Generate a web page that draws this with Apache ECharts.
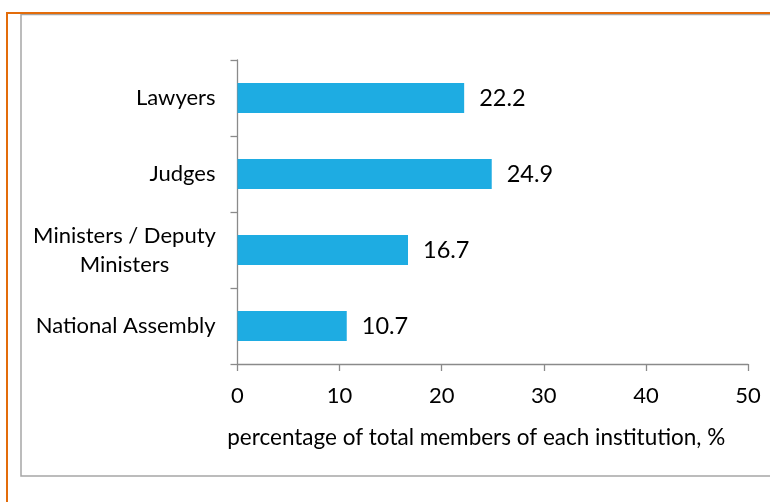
<!DOCTYPE html>
<html>
<head>
<meta charset="utf-8">
<script src="https://cdn.jsdelivr.net/npm/echarts@6/dist/echarts.min.js"></script>
<style>
  html, body { margin: 0; padding: 0; background: #fff; }
  #chart { width: 770px; height: 502px; }
</style>
</head>
<body>
<div id="chart"></div>
<script>
// Institutions, listed top to bottom
const categories = ['Lawyers', 'Judges', 'Ministers / Deputy Ministers', 'National Assembly'];
// Share of women among all members of each institution, %
const shares = [22.2, 24.9, 16.7, 10.7];
// Value axis range and step
const axisMin = 0;
const axisMax = 50;
const axisStep = 10;
const axisTitle = 'percentage of total members of each institution, %';

const FONT = 'Lato, "Open Sans", sans-serif';
const AXIS_GREY = '#8a8a8a';

const chart = echarts.init(document.getElementById('chart'), null, { renderer: 'canvas' });

chart.setOption({
  animation: false,
  backgroundColor: '#ffffff',
  textStyle: { fontFamily: FONT },
  graphic: [
    // grey chart-area frame
    {
      type: 'rect', silent: true, z: 0,
      shape: { x: 21, y: 14.5, width: 800, height: 461.5 },
      style: { fill: 'none', stroke: '#a6a6a6', lineWidth: 1.5 }
    },
    // orange accent rule, top and left
    {
      type: 'polyline', silent: true, z: 1,
      shape: { points: [[7, 502], [7, 13], [770, 13]] },
      style: { fill: 'none', stroke: '#e36c0a', lineWidth: 2 }
    }
  ],
  grid: { left: 237.5, right: 22, top: 60, bottom: 138, containLabel: false },
  xAxis: {
    type: 'value',
    min: axisMin,
    max: axisMax,
    interval: axisStep,
    name: axisTitle,
    nameLocation: 'middle',
    nameGap: 62,
    nameTextStyle: { fontFamily: FONT, fontSize: 22.5, color: '#000', padding: [0, 33, 0, 0] },
    axisLine: { show: true, lineStyle: { color: AXIS_GREY, width: 1.3 } },
    axisTick: { show: true, length: 7, lineStyle: { color: AXIS_GREY, width: 1.3 } },
    axisLabel: { fontFamily: FONT, fontSize: 22, color: '#000', margin: 21 },
    splitLine: { show: false }
  },
  yAxis: {
    type: 'category',
    data: categories,
    inverse: true,
    axisLine: { show: true, lineStyle: { color: AXIS_GREY, width: 1.3 } },
    axisTick: { show: true, length: 7, lineStyle: { color: AXIS_GREY, width: 1.3 } },
    axisLabel: {
      fontFamily: FONT, fontSize: 22, color: '#000', margin: 22,
      formatter: function (v) {
        if (v === 'Ministers / Deputy Ministers') {
          return '{c|Ministers / Deputy}\n{c|Ministers}';
        }
        return v;
      },
      rich: {
        c: { fontFamily: FONT, fontSize: 22, color: '#000', width: 182, align: 'center', lineHeight: 29 }
      }
    }
  },
  series: [{
    type: 'bar',
    data: shares,
    barWidth: 30,
    itemStyle: { color: '#1eace2' },
    label: {
      show: true,
      position: 'right',
      distance: 15,
      fontFamily: FONT,
      fontSize: 23.5,
      color: '#000',
      formatter: function (p) { return p.value.toFixed(1); }
    }
  }]
});
</script>
</body>
</html>
